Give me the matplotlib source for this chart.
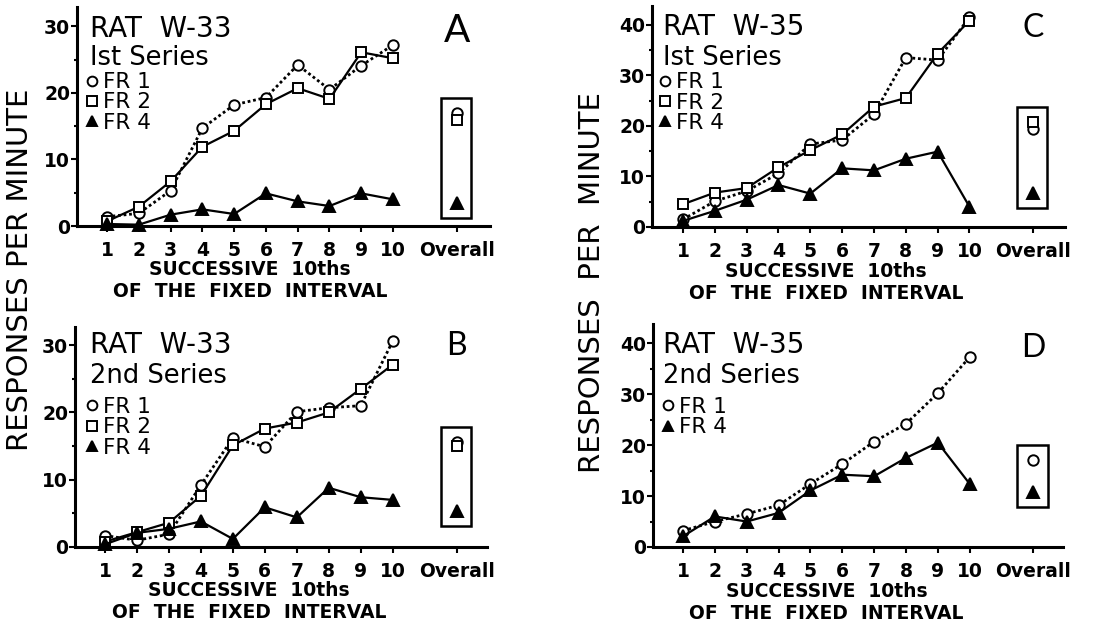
import matplotlib
matplotlib.use('Agg')
import matplotlib.pyplot as plt
from matplotlib import font_manager as fm
from matplotlib.lines import Line2D
from matplotlib.patches import Rectangle
import matplotlib.transforms as mtrans

# ---------------- data ----------------
tenths = [1, 2, 3, 4, 5, 6, 7, 8, 9, 10]
tick_labels = ['1', '2', '3', '4', '5', '6', '7', '8', '9', '10', 'Overall']
overall_pos = 12

A_fr1 = [1.4, 1.9, 5.3, 14.7, 18.2, 19.3, 24.2, 20.5, 24.1, 27.2]
A_fr2 = [0.7, 2.9, 6.7, 11.9, 14.3, 18.3, 20.7, 19.1, 26.1, 25.2]
A_fr4 = [0.3, 0.2, 1.7, 2.5, 1.8, 4.9, 3.7, 3.0, 4.9, 4.0]
A_overall = {'FR 1': 17.0, 'FR 2': 15.9, 'FR 4': 3.4}

B_fr1 = [1.7, 1.0, 1.9, 9.2, 16.2, 14.9, 20.1, 20.7, 21.0, 30.6]
B_fr2 = [0.8, 2.2, 3.6, 7.6, 15.1, 17.6, 18.5, 20.0, 23.5, 27.1]
B_fr4 = [0.4, 2.1, 2.7, 3.8, 1.2, 5.9, 4.4, 8.8, 7.4, 7.0]
B_overall = {'FR 1': 15.6, 'FR 2': 15.0, 'FR 4': 5.3}

C_fr1 = [1.5, 5.1, 7.1, 10.6, 16.4, 17.2, 22.3, 33.5, 33.0, 41.5]
C_fr2 = [4.5, 6.8, 7.7, 11.8, 15.2, 18.3, 23.8, 25.5, 34.3, 40.8]
C_fr4 = [1.2, 3.2, 5.4, 8.3, 6.6, 11.6, 11.2, 13.5, 14.9, 4.0]
C_overall = {'FR 1': 19.3, 'FR 2': 20.8, 'FR 4': 6.7}

D_fr1 = [3.2, 5.0, 6.5, 8.2, 12.4, 16.3, 20.7, 24.2, 30.2, 37.3]
D_fr4 = [2.1, 6.0, 5.0, 6.7, 11.1, 14.2, 13.9, 17.5, 20.5, 12.4]
D_overall = {'FR 1': 17.1, 'FR 4': 10.9}

# ---------------- styles ----------------
STYLE = {
    'FR 1': dict(marker='o', mfc='white', mec='black', ms=7.5, ls=(0, (1, 1)), lw=2.0),
    'FR 2': dict(marker='s', mfc='white', mec='black', ms=7, ls='-', lw=1.6),
    'FR 4': dict(marker='^', mfc='black', mec='black', ms=8, ls='-', lw=1.6),
}

names = {f.name for f in fm.fontManager.ttflist}
if 'Liberation Sans Narrow' in names:
    TICKFONT = dict(family='Liberation Sans Narrow', weight='bold', size=17)
else:
    TICKFONT = dict(family='DejaVu Sans', weight='bold', size=13.5)
LETTERFAMILY = 'Lato' if 'Lato' in names else 'DejaVu Sans'

W, H = 1115, 626
fig = plt.figure(figsize=(W / 100, H / 100), dpi=100)


def rect(l, r, t, b):
    return [l / W, 1 - b / H, (r - l) / W, (b - t) / H]


panels = [
    dict(letter='A', rect=rect(77, 490, 7, 226), xlim=(0.056, 13.05), ylim=(0, 32.9),
         yticks=[0, 10, 20, 30], minor=[5, 15, 25], rat='RAT  W-33', series='Ist Series',
         data={'FR 1': A_fr1, 'FR 2': A_fr2, 'FR 4': A_fr4}, overall=A_overall,
         title_x=0.031, rat_y=0.863, ser_y=0.735, letter_y=0.840, letter_size=28,
         leg=(0.019, 0.703)),
    dict(letter='B', rect=rect(75, 487, 327, 547), xlim=(0.062, 12.95), ylim=(0, 32.7),
         yticks=[0, 10, 20, 30], minor=[5, 15, 25], rat='RAT  W-33', series='2nd Series',
         data={'FR 1': B_fr1, 'FR 2': B_fr2, 'FR 4': B_fr4}, overall=B_overall,
         title_x=0.036, rat_y=0.881, ser_y=0.745, letter_y=0.872, letter_size=23,
         leg=(0.024, 0.682)),
    dict(letter='C', rect=rect(652, 1065, 6, 227), xlim=(0.027, 13.0), ylim=(0, 43.7),
         yticks=[0, 10, 20, 30, 40], minor=[5, 15, 25, 35], rat='RAT  W-35', series='Ist Series',
         data={'FR 1': C_fr1, 'FR 2': C_fr2, 'FR 4': C_fr4}, overall=C_overall,
         title_x=0.027, rat_y=0.869, ser_y=0.733, letter_y=0.86, letter_size=23,
         leg=(0.013, 0.701)),
    dict(letter='D', rect=rect(653, 1063, 324, 547), xlim=(0.058, 12.93), ylim=(0, 43.8),
         yticks=[0, 10, 20, 30, 40], minor=[5, 15, 25, 35], rat='RAT  W-35', series='2nd Series',
         data={'FR 1': D_fr1, 'FR 4': D_fr4}, overall=D_overall,
         title_x=0.025, rat_y=0.870, ser_y=0.736, letter_y=0.852, letter_size=23,
         leg=(0.018, 0.673)),
]

for p in panels:
    ax = fig.add_axes(p['rect'])
    ax.set_xlim(*p['xlim'])
    ax.set_ylim(*p['ylim'])
    for s in ('top', 'right'):
        ax.spines[s].set_visible(False)
    for s in ('left', 'bottom'):
        ax.spines[s].set_linewidth(2.2)
    ax.set_xticks(tenths + [overall_pos])
    ax.set_xticklabels(tick_labels)
    ax.set_yticks(p['yticks'])
    ax.set_yticks(p['minor'], minor=True)
    ax.tick_params(axis='x', direction='out', length=4, width=1.5, pad=7)
    ax.tick_params(axis='y', which='major', direction='out', length=4, width=1.5, pad=1)
    ax.tick_params(axis='y', which='minor', direction='out', length=2.5, width=1.5)
    for lab in ax.get_xticklabels() + ax.get_yticklabels():
        lab.set_fontfamily(TICKFONT['family'])
        lab.set_fontweight(TICKFONT['weight'])
        lab.set_fontsize(TICKFONT['size'])

    handles = []
    for name, vals in p['data'].items():
        st = STYLE[name]
        ax.plot(tenths, vals, color='black', linestyle=st['ls'], linewidth=st['lw'],
                marker=st['marker'], markersize=st['ms'], markerfacecolor=st['mfc'],
                markeredgecolor=st['mec'], markeredgewidth=1.4, zorder=3, clip_on=False)
        ax.plot([overall_pos], [p['overall'][name]], linestyle='none', marker=st['marker'],
                markersize=st['ms'], markerfacecolor=st['mfc'], markeredgecolor=st['mec'],
                markeredgewidth=1.4, zorder=4)
        handles.append(Line2D([], [], linestyle='none', marker=st['marker'], markersize=st['ms'] - 0.5,
                              markerfacecolor=st['mfc'], markeredgecolor=st['mec'],
                              markeredgewidth=1.4, label=name))

    # overall box
    ov = list(p['overall'].values())
    pad = 0.068 * p['ylim'][1]
    lo, hi = min(ov) - pad, max(ov) + pad
    ax.add_patch(Rectangle((overall_pos - 0.5, lo), 0.95, hi - lo, fill=False,
                           edgecolor='black', linewidth=1.8, zorder=2))

    ax.legend(handles=handles, loc='upper left', bbox_to_anchor=p['leg'],
              frameon=False, fontsize=15.5, handlelength=0.7, handletextpad=0.15,
              labelspacing=0.02, borderpad=0, borderaxespad=0)

    ax.text(p['title_x'], p['rat_y'], p['rat'], transform=ax.transAxes, fontsize=20,
            ha='left', va='baseline')
    ax.text(p['title_x'], p['ser_y'], p['series'], transform=ax.transAxes, fontsize=18.5,
            ha='left', va='baseline')
    tr = mtrans.blended_transform_factory(ax.transData, ax.transAxes)
    ax.text(overall_pos, p['letter_y'], p['letter'], transform=tr, fontsize=p['letter_size'],
            ha='center', va='baseline', family=LETTERFAMILY)

    # x-axis caption (two lines)
    ax.text(5.5, -0.20, 'SUCCESSIVE  10ths', transform=tr, ha='center', va='center',
            fontsize=13.5, fontweight='bold')
    ax.text(5.5, -0.30, 'OF  THE  FIXED  INTERVAL', transform=tr, ha='center', va='center',
            fontsize=13.5, fontweight='bold')

fig.text(20.5 / W, 1 - 270 / H, 'RESPONSES PER MINUTE', rotation=90, ha='center', va='center',
         fontsize=21)
fig.text(592 / W, 1 - 283 / H, 'RESPONSES  PER  MINUTE', rotation=90, ha='center', va='center',
         fontsize=21)

fig.savefig('out.png', dpi=100)
